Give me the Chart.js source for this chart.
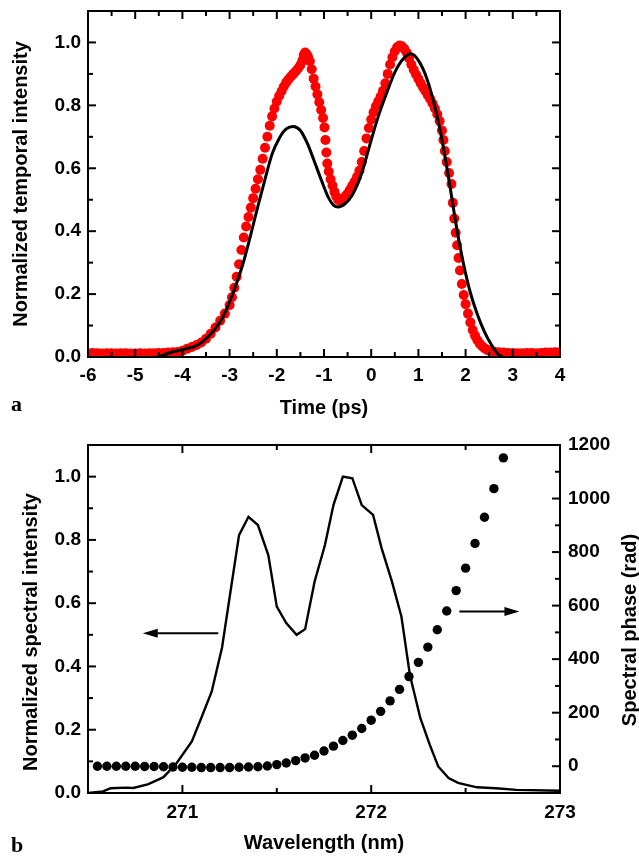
<!DOCTYPE html>
<html><head><meta charset="utf-8">
<script src="https://cdn.jsdelivr.net/npm/chart.js@4.4.1/dist/chart.umd.min.js"></script>
<style>
html,body{margin:0;padding:0;background:#fff;}
body{width:639px;height:857px;position:relative;overflow:hidden;}
#c1{position:absolute;left:0;top:0;}
#c2{position:absolute;left:0;top:430px;}
</style></head><body>
<canvas id="c1" width="639" height="430"></canvas>
<canvas id="c2" width="639" height="427"></canvas>
<script>
// ---------- Panel a: temporal intensity ----------
const measuredTimePs = [-6.0,-5.9,-5.8,-5.7,-5.6,-5.5,-5.4,-5.3,-5.2,-5.1,-5.0,-4.9,-4.8,-4.7,-4.6,-4.5,-4.4,-4.3,-4.2,
 -4.1,-4.0,-3.9,-3.8,-3.7,-3.6,-3.5,-3.4,-3.3,-3.2,-3.1,-3.0,-2.95,-2.9,-2.85,-2.8,-2.75,-2.7,-2.65,-2.6,-2.55,-2.5,
 -2.45,-2.4,-2.35,-2.3,-2.25,-2.2,-2.15,-2.1,-2.05,-2.0,-1.95,-1.9,-1.85,-1.8,-1.75,-1.7,-1.65,-1.6,-1.55,-1.5,-1.46,
 -1.43,-1.4,-1.37,-1.34,-1.3,-1.26,-1.22,-1.18,-1.14,-1.1,-1.06,-1.02,-0.99,-0.97,-0.95,-0.93,-0.9,-0.86,-0.82,-0.78,
 -0.74,-0.7,-0.66,-0.62,-0.58,-0.54,-0.5,-0.45,-0.4,-0.35,-0.3,-0.25,-0.2,-0.15,-0.1,-0.05,0.0,0.05,0.1,0.15,0.2,0.25,
 0.3,0.35,0.4,0.45,0.5,0.55,0.6,0.65,0.7,0.75,0.8,0.85,0.9,0.95,1.0,1.05,1.1,1.15,1.2,1.25,1.3,1.35,1.4,1.45,1.5,1.53,
 1.56,1.6,1.65,1.7,1.73,1.76,1.79,1.82,1.85,1.88,1.92,1.96,2.0,2.05,2.1,2.15,2.2,2.25,2.3,2.35,2.4,2.45,2.5,2.6,2.7,
 2.8,2.9,3.0,3.1,3.2,3.3,3.4,3.5,3.6,3.7,3.8,3.9,4.0];
const measuredIntensity = [0.012,0.013,0.012,0.011,0.012,0.012,0.011,0.012,0.012,0.011,0.011,0.012,0.011,0.012,0.012,0.013,0.013,0.014,0.015,
 0.016,0.02,0.026,0.032,0.038,0.046,0.058,0.074,0.094,0.115,0.138,0.165,0.19,0.22,0.255,0.295,0.34,0.38,0.415,0.445,0.475,0.505,
 0.535,0.565,0.595,0.63,0.665,0.70,0.735,0.765,0.79,0.812,0.83,0.845,0.86,0.873,0.883,0.892,0.90,0.908,0.917,0.928,0.942,
 0.96,0.968,0.963,0.955,0.94,0.915,0.885,0.86,0.835,0.81,0.785,0.76,0.73,0.69,0.65,0.615,0.59,0.565,0.545,0.525,
 0.51,0.50,0.497,0.50,0.505,0.512,0.52,0.532,0.545,0.558,0.573,0.592,0.62,0.655,0.695,0.728,0.755,0.778,0.797,0.813,0.828,0.846,
 0.87,0.90,0.93,0.953,0.972,0.985,0.99,0.988,0.98,0.968,0.95,0.93,0.913,0.898,0.884,0.87,0.857,0.845,0.832,0.82,0.806,0.79,0.772,0.75,0.72,0.69,
 0.655,0.62,0.585,0.55,0.49,0.44,0.395,0.355,0.315,0.275,0.232,0.197,0.168,0.138,0.11,0.086,0.068,0.053,0.042,0.034,0.028,0.023,0.02,0.017,0.015,
 0.014,0.013,0.013,0.012,0.012,0.013,0.013,0.012,0.013,0.014,0.014,0.015,0.015];
const fitTimePs = [-4.5,-4.3,-4.1,-3.9,-3.75,-3.6,-3.45,-3.3,-3.15,-3.0,-2.85,-2.7,-2.55,-2.4,-2.25,-2.1,-1.95,-1.8,-1.65,
 -1.5,-1.35,-1.2,-1.05,-0.9,-0.8,-0.7,-0.55,-0.4,-0.2,0.0,0.15,0.33,0.5,0.68,0.84,1.0,1.18,1.35,1.5,1.65,1.8,1.95,2.1,
 2.25,2.4,2.55,2.68,2.78];
const fitIntensity = [0,0.012,0.02,0.027,0.033,0.045,0.065,0.09,0.125,0.175,0.235,0.305,0.39,0.48,0.565,0.645,0.695,0.725,0.733,
 0.72,0.678,0.62,0.56,0.505,0.483,0.477,0.488,0.515,0.585,0.69,0.765,0.84,0.905,0.948,0.964,0.943,0.885,0.795,0.69,0.56,0.42,0.30,0.205,
 0.135,0.08,0.038,0.01,0];
const timeTicks = [-6,-5,-4,-3,-2,-1,0,1,2,3,4];
const intensityTicks = [0,0.2,0.4,0.6,0.8,1.0];

// ---------- Panel b: spectrum and spectral phase ----------
const wavelengthNm = [270.5,270.58,270.62,270.7,270.74,270.82,270.9,270.97,271.05,271.1,271.155,271.21,271.3,271.35,271.4,
 271.455,271.5,271.55,271.605,271.65,271.7,271.755,271.8,271.85,271.9,271.95,272.01,272.055,272.11,272.16,272.205,272.26,
 272.31,272.355,272.41,272.46,272.56,272.66,272.77,273.0];
const spectralIntensity = [0.0,0.005,0.015,0.017,0.016,0.028,0.05,0.095,0.163,0.237,0.32,0.46,0.815,0.873,0.847,
 0.752,0.589,0.537,0.50,0.518,0.668,0.784,0.91,1.0,0.995,0.91,0.879,0.774,0.668,0.558,0.373,0.237,
 0.153,0.084,0.047,0.032,0.018,0.015,0.01,0.007];
const phaseWavelengthNm = [270.55,270.6,270.65,270.7,270.75,270.8,270.85,270.9,270.95,271.0,271.05,271.1,271.15,271.2,271.25,
 271.3,271.35,271.4,271.45,271.5,271.55,271.6,271.65,271.7,271.75,271.8,271.85,271.9,271.95,272.0,272.05,272.1,272.15,272.2,
 272.25,272.3,272.35,272.4,272.45,272.5,272.55,272.6,272.65,272.7];
const spectralPhaseRad = [0,0,0,0,0,-1,-1,-2,-3,-4,-4,-5,-5,-5,-5,
 -4,-3,-2,1,6,12,21,31,41,57,75,96,116,141,172,205,244,287,335,
 388,445,510,580,656,740,832,930,1037,1152];
const wavelengthTicks = [271,272,273];
const phaseTicks = [0,200,400,600,800,1000,1200];

// ---------- common ----------
const FONT = 'Liberation Sans, Arial, Helvetica, sans-serif';
Chart.defaults.font.family = FONT;
Chart.defaults.color = '#000';

function pairs(xs, ys){ return xs.map((x,i)=>({x:x, y:ys[i]})); }
function setTicks(values){ return s => { s.ticks = values.map(v=>({value:v})); }; }
function fixW(w){ return s => { s.width = w; s.paddingTop = 0; s.paddingBottom = 0; }; }
function fixH(h){ return s => { s.height = h; s.paddingLeft = 0; s.paddingRight = 0; }; }

function frameTicks(ctx, a, scale, side, major, minor){
  const eps = 1e-6;
  const start = Math.ceil((scale.min - eps)/minor);
  for (let k = start; k*minor <= scale.max + eps; k++){
    const v = k*minor;
    const isMajor = Math.abs(v/major - Math.round(v/major)) < 1e-4;
    const len = isMajor ? 8 : 5;
    const p = scale.getPixelForValue(v);
    ctx.beginPath();
    if (side==='bottom'){ ctx.moveTo(p,a.bottom); ctx.lineTo(p,a.bottom-len); }
    if (side==='top'){ ctx.moveTo(p,a.top); ctx.lineTo(p,a.top+len); }
    if (side==='left'){ ctx.moveTo(a.left,p); ctx.lineTo(a.left+len,p); }
    if (side==='right'){ ctx.moveTo(a.right,p); ctx.lineTo(a.right-len,p); }
    ctx.stroke();
  }
}
function rotText(ctx, text, x, y, font){
  ctx.save(); ctx.translate(x,y); ctx.rotate(-Math.PI/2);
  ctx.font = font; ctx.textAlign='center'; ctx.textBaseline='alphabetic'; ctx.fillStyle='#000';
  ctx.fillText(text,0,0); ctx.restore();
}
function hText(ctx, text, x, y, font, align){
  ctx.save(); ctx.font = font; ctx.textAlign=align||'center'; ctx.textBaseline='alphabetic'; ctx.fillStyle='#000';
  ctx.fillText(text,x,y); ctx.restore();
}
function arrow(ctx, x1, y1, x2, y2){
  const ang = Math.atan2(y2-y1, x2-x1), L = 15, W = 4.5;
  ctx.save(); ctx.strokeStyle='#000'; ctx.fillStyle='#000'; ctx.lineWidth=2.2;
  ctx.beginPath(); ctx.moveTo(x1,y1); ctx.lineTo(x2 - L*0.8*Math.cos(ang), y2 - L*0.8*Math.sin(ang)); ctx.stroke();
  ctx.beginPath(); ctx.moveTo(x2,y2);
  ctx.lineTo(x2 - L*Math.cos(ang) + W*Math.sin(ang), y2 - L*Math.sin(ang) - W*Math.cos(ang));
  ctx.lineTo(x2 - L*Math.cos(ang) - W*Math.sin(ang), y2 - L*Math.sin(ang) + W*Math.cos(ang));
  ctx.closePath(); ctx.fill(); ctx.restore();
}

const TICKFONT = {family: FONT, size: 19, weight: 'bold'};
const TITLEFONT = 'bold 20px ' + FONT;
const LETTERFONT = 'bold 22px Liberation Serif, Times New Roman, serif';

// ---------- Chart a ----------
const plugA = {
  id:'decorA',
  afterDraw(chart){
    const ctx = chart.ctx, a = chart.chartArea, s = chart.scales;
    ctx.save(); ctx.strokeStyle='#000'; ctx.lineWidth=2;
    ctx.strokeRect(a.left, a.top, a.right-a.left, a.bottom-a.top);
    frameTicks(ctx,a,s.x,'bottom',1,0.5); frameTicks(ctx,a,s.x,'top',1,0.5);
    frameTicks(ctx,a,s.y,'left',0.2,0.1); frameTicks(ctx,a,s.y,'right',0.2,0.1);
    ctx.restore();
    hText(ctx,'Time (ps)',(a.left+a.right)/2,414,TITLEFONT);
    rotText(ctx,'Normalized temporal intensity',27,(a.top+a.bottom)/2,TITLEFONT);
    hText(ctx,'a',11,411,LETTERFONT,'left');
  }
};
new Chart(document.getElementById('c1'), {
  type:'scatter',
  data:{datasets:[
    {label:'Fit', data:pairs(fitTimePs,fitIntensity), showLine:true, borderColor:'#000', borderWidth:3,
     pointRadius:0, cubicInterpolationMode:'monotone', fill:false, order:0},
    {label:'Measured', data:pairs(measuredTimePs,measuredIntensity), backgroundColor:'#ff0000', borderWidth:0,
     pointRadius:5, pointHoverRadius:5, order:1}
  ]},
  options:{
    responsive:false, animation:false, events:[],
    layout:{padding:{top:11,right:79,left:0,bottom:0}},
    plugins:{legend:{display:false}, tooltip:{enabled:false}},
    scales:{
      x:{type:'linear', min:-6, max:4, afterBuildTicks:setTicks(timeTicks), afterFit:fixH(73),
         grid:{display:false, drawTicks:false}, border:{display:false},
         ticks:{font:TICKFONT, color:'#000', padding:7, autoSkip:false, maxRotation:0, callback:v=>String(v)}},
      y:{type:'linear', min:0, max:1.1, afterBuildTicks:setTicks(intensityTicks), afterFit:fixW(88),
         grid:{display:false, drawTicks:false}, border:{display:false},
         ticks:{font:TICKFONT, color:'#000', padding:7, autoSkip:false, callback:v=>Number(v).toFixed(1)}}
    }
  },
  plugins:[plugA]
});

// ---------- Chart b ----------
const plugB = {
  id:'decorB',
  afterDraw(chart){
    const ctx = chart.ctx, a = chart.chartArea, s = chart.scales;
    ctx.save(); ctx.strokeStyle='#000'; ctx.lineWidth=2;
    ctx.strokeRect(a.left, a.top, a.right-a.left, a.bottom-a.top);
    frameTicks(ctx,a,s.x,'bottom',1,0.5); frameTicks(ctx,a,s.x,'top',1,0.5);
    frameTicks(ctx,a,s.y,'left',0.2,0.1); frameTicks(ctx,a,s.y2,'right',200,100);
    ctx.restore();
    // arrows pointing to the axis each curve belongs to
    arrow(ctx, s.x.getPixelForValue(271.19), s.y.getPixelForValue(0.505),
               s.x.getPixelForValue(270.79), s.y.getPixelForValue(0.505));
    arrow(ctx, s.x.getPixelForValue(272.467), s.y2.getPixelForValue(578),
               s.x.getPixelForValue(272.785), s.y2.getPixelForValue(578));
    hText(ctx,'Wavelength (nm)',(a.left+a.right)/2,419,TITLEFONT);
    rotText(ctx,'Normalized spectral intensity',37,202,TITLEFONT);
    rotText(ctx,'Spectral phase (rad)',636,200,TITLEFONT);
    hText(ctx,'b',11,421.5,LETTERFONT,'left');
  }
};
new Chart(document.getElementById('c2'), {
  type:'scatter',
  data:{datasets:[
    {label:'Spectrum', data:pairs(wavelengthNm,spectralIntensity), showLine:true, borderColor:'#000', borderWidth:2.4,
     pointRadius:0, tension:0, fill:false, yAxisID:'y', order:1},
    {label:'Phase', data:pairs(phaseWavelengthNm,spectralPhaseRad), backgroundColor:'#000', borderWidth:0,
     pointRadius:4.7, pointHoverRadius:4.7, yAxisID:'y2', order:0}
  ]},
  options:{
    responsive:false, animation:false, events:[],
    layout:{padding:{top:15,right:0,left:0,bottom:0}},
    plugins:{legend:{display:false}, tooltip:{enabled:false}},
    scales:{
      x:{type:'linear', min:270.5, max:273, afterBuildTicks:setTicks(wavelengthTicks), afterFit:fixH(64),
         grid:{display:false, drawTicks:false}, border:{display:false},
         ticks:{font:TICKFONT, color:'#000', padding:8, autoSkip:false, maxRotation:0, callback:v=>String(v)}},
      y:{type:'linear', position:'left', min:0, max:1.1, afterBuildTicks:setTicks(intensityTicks), afterFit:fixW(88),
         grid:{display:false, drawTicks:false}, border:{display:false},
         ticks:{font:TICKFONT, color:'#000', padding:7, autoSkip:false, callback:v=>Number(v).toFixed(1)}},
      y2:{type:'linear', position:'right', min:-100, max:1200, afterBuildTicks:setTicks(phaseTicks), afterFit:fixW(79),
         grid:{display:false, drawTicks:false}, border:{display:false},
         ticks:{font:TICKFONT, color:'#000', padding:8, autoSkip:false, callback:v=>String(v)}}
    }
  },
  plugins:[plugB]
});
</script>
</body></html>
